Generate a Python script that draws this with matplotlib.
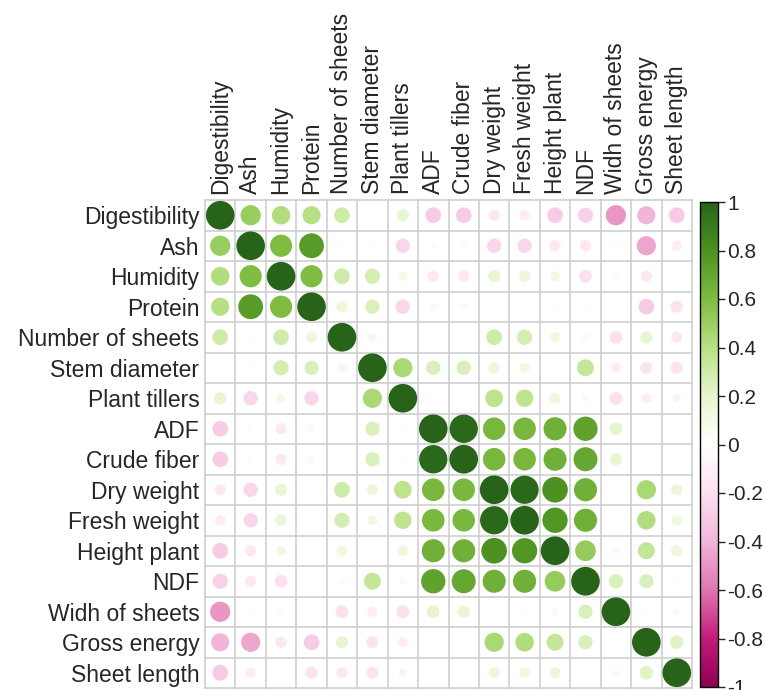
import numpy as np
import matplotlib
matplotlib.use("Agg")
import matplotlib.pyplot as plt
from matplotlib.colors import LinearSegmentedColormap, Normalize
from matplotlib.patches import Circle
from matplotlib.colorbar import ColorbarBase

plt.rcParams['font.family'] = ['Liberation Sans', 'DejaVu Sans']
plt.rcParams['axes.unicode_minus'] = False

variables = ["Digestibility", "Ash", "Humidity", "Protein", "Number of sheets",
             "Stem diameter", "Plant tillers", "ADF", "Crude fiber", "Dry weight",
             "Fresh weight", "Height plant", "NDF", "Widh of sheets",
             "Gross energy", "Sheet length"]

# Correlation coefficients, one row per variable (same order as above)
digestibility = [1.00, 0.50, 0.42, 0.40, 0.30, 0.00, 0.18, -0.30, -0.30, -0.15, -0.13, -0.30, -0.28, -0.50, -0.40, -0.30]
ash           = [0.50, 1.00, 0.60, 0.75, 0.02, 0.03, -0.25, -0.04, -0.04, -0.25, -0.25, -0.15, -0.15, -0.03, -0.45, -0.13]
humidity      = [0.42, 0.60, 1.00, 0.60, 0.30, 0.28, 0.10, -0.15, -0.15, 0.18, 0.16, 0.12, -0.20, -0.04, -0.15, 0.00]
protein       = [0.40, 0.75, 0.60, 1.00, 0.15, 0.25, -0.25, 0.07, 0.07, 0.00, 0.00, 0.02, -0.02, -0.01, -0.30, -0.18]
num_sheets    = [0.30, 0.02, 0.30, 0.15, 1.00, -0.08, 0.01, 0.01, 0.01, 0.30, 0.28, 0.13, -0.05, -0.20, 0.18, -0.15]
stem_diam     = [0.00, 0.03, 0.28, 0.25, -0.08, 1.00, 0.45, 0.25, 0.25, 0.15, 0.12, 0.01, 0.35, -0.13, -0.18, -0.18]
tillers       = [0.18, -0.25, 0.10, -0.25, 0.01, 0.45, 1.00, 0.02, 0.02, 0.38, 0.37, 0.14, 0.06, -0.20, -0.12, -0.08]
adf           = [-0.30, -0.04, -0.15, 0.07, 0.01, 0.25, 0.02, 1.00, 0.98, 0.62, 0.62, 0.65, 0.72, 0.20, 0.01, 0.01]
crude_fiber   = [-0.30, -0.04, -0.15, 0.07, 0.01, 0.25, 0.02, 0.98, 1.00, 0.62, 0.62, 0.65, 0.70, 0.18, 0.01, 0.01]
dry_weight    = [-0.15, -0.25, 0.18, 0.00, 0.30, 0.15, 0.38, 0.62, 0.62, 1.00, 0.97, 0.80, 0.65, 0.01, 0.45, 0.15]
fresh_weight  = [-0.13, -0.25, 0.16, 0.00, 0.28, 0.12, 0.37, 0.62, 0.62, 0.97, 1.00, 0.78, 0.65, 0.02, 0.42, 0.13]
height_plant  = [-0.30, -0.15, 0.12, 0.02, 0.13, 0.01, 0.14, 0.65, 0.65, 0.80, 0.78, 1.00, 0.52, 0.06, 0.35, 0.15]
ndf           = [-0.28, -0.15, -0.20, -0.02, -0.05, 0.35, 0.06, 0.72, 0.70, 0.65, 0.65, 0.52, 1.00, 0.25, 0.25, 0.03]
widh_sheets   = [-0.50, -0.03, -0.04, -0.01, -0.20, -0.13, -0.20, 0.20, 0.18, 0.01, 0.02, 0.06, 0.25, 1.00, 0.02, -0.05]
gross_energy  = [-0.40, -0.45, -0.15, -0.30, 0.18, -0.18, -0.12, 0.01, 0.01, 0.45, 0.42, 0.35, 0.25, 0.02, 1.00, 0.22]
sheet_length  = [-0.30, -0.13, 0.00, -0.18, -0.15, -0.18, -0.08, 0.01, 0.01, 0.15, 0.13, 0.15, 0.03, -0.05, 0.22, 1.00]

corr = np.array([digestibility, ash, humidity, protein, num_sheets, stem_diam,
                 tillers, adf, crude_fiber, dry_weight, fresh_weight,
                 height_plant, ndf, widh_sheets, gross_energy, sheet_length])

cbar_ticks = [1, 0.8, 0.6, 0.4, 0.2, 0, -0.2, -0.4, -0.6, -0.8, -1]

piyg = ["#8E0152", "#C51B7D", "#DE77AE", "#F1B6DA", "#FDE0EF", "#FFFFFF",
        "#E6F5D0", "#B8E186", "#7FBC41", "#4D9221", "#276419"]
cmap = LinearSegmentedColormap.from_list("piyg", piyg, N=256)
norm = Normalize(vmin=-1, vmax=1)

text_color = "#262626"
fs = 16.5

fig = plt.figure(figsize=(7.66, 6.90), dpi=100)
ax = fig.add_axes([205 / 766, 2 / 690, 487 / 766, 488 / 690])

n = len(variables)
ax.set_xlim(0, n)
ax.set_ylim(n, 0)

# cell grid
for k in range(n + 1):
    ax.plot([k, k], [0, n], color="#cccccc", lw=1.1, zorder=1, clip_on=False)
    ax.plot([0, n], [k, k], color="#cccccc", lw=1.1, zorder=1, clip_on=False)

# circles: area proportional to |r|
for i in range(n):
    for j in range(n):
        r = corr[i, j]
        rad = 0.47 * np.sqrt(abs(r))
        if rad <= 0:
            continue
        ax.add_patch(Circle((j + 0.5, i + 0.5), rad, facecolor=cmap(norm(r)),
                            edgecolor="none", zorder=2))

ax.set_xticks(np.arange(n) + 0.5)
ax.set_yticks(np.arange(n) + 0.5)
ax.set_xticklabels(variables, rotation=90, fontsize=fs, color=text_color)
ax.set_yticklabels(variables, fontsize=fs, color=text_color)
ax.xaxis.tick_top()
ax.tick_params(length=0, pad=4)
for s in ax.spines.values():
    s.set_visible(False)

# colour bar
cax = fig.add_axes([700 / 766, 3 / 690, 18 / 766, 485 / 690])
cb = ColorbarBase(cax, cmap=cmap, norm=norm, orientation="vertical", ticks=cbar_ticks)
cb.outline.set_edgecolor("black")
cb.outline.set_linewidth(1.0)
cb.ax.set_yticklabels([f"{t:g}" for t in cbar_ticks], fontsize=15, color=text_color)
cb.ax.tick_params(length=5, width=1, color=text_color, pad=1.5)

fig.savefig("out.png", dpi=100)
